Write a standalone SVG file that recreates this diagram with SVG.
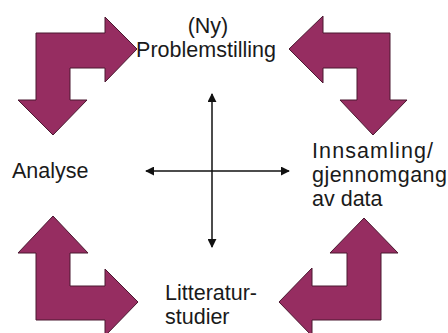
<svg xmlns="http://www.w3.org/2000/svg" width="448" height="333" viewBox="0 0 448 333">
  <defs>
    <style>
      .bent { fill: #962D61; stroke: #4A1830; stroke-width: 1; stroke-linejoin: miter; }
      .lbl { font-family: "Liberation Sans", Arial, sans-serif; font-size: 21.5px; fill: #1A1A1A; }
      .axis { stroke: #111; stroke-width: 1.5; fill: none; marker-start: url(#tip); marker-end: url(#tip); }
    </style>
    <marker id="tip" viewBox="0 0 10 10" refX="9" refY="5" markerWidth="6" markerHeight="6" markerUnits="strokeWidth" orient="auto-start-reverse">
      <path d="M0,0 L10,5 L0,10 z" fill="#111"/>
    </marker>
  </defs>
  <rect width="448" height="333" fill="#FFFFFF"/>

  <g id="arrow-top-left">
    <polygon class="bent" points="36,33 105,33 105,17 137,49 105,82 105,68 70,68 70,100 87,100 53,135 18,100 36,100"/>
  </g>
  <g id="arrow-top-right">
    <polygon class="bent" points="390,33 323,33 323,16 289,49 323,83 323,68 357,68 357,100 340,100 373,135 407,100 390,100"/>
  </g>
  <g id="arrow-bottom-left">
    <polygon class="bent" points="36,320 105,320 105,336 138,302 105,269 105,286 70,286 70,253 88,253 53,216 18,253 36,253"/>
  </g>
  <g id="arrow-bottom-right">
    <polygon class="bent" points="381,320 312,320 312,336 279,302 312,268 312,286 347,286 347,253 330,253 364,218 398,253 381,253"/>
  </g>

  <g id="connectors">
    <line class="axis" x1="212" y1="94" x2="212" y2="247"/>
    <line class="axis" x1="146" y1="171" x2="289" y2="171"/>
  </g>

  <g id="node-problemstilling">
    <text class="lbl" x="208" y="33" text-anchor="middle">(Ny)</text>
    <text class="lbl" x="206" y="57" text-anchor="middle">Problemstilling</text>
  </g>
  <g id="node-analyse">
    <text class="lbl" x="12" y="178">Analyse</text>
  </g>
  <g id="node-innsamling">
    <text class="lbl" x="312" y="158" textLength="121" lengthAdjust="spacing">Innsamling/</text>
    <text class="lbl" x="312" y="182" textLength="135" lengthAdjust="spacing">gjennomgang</text>
    <text class="lbl" x="312" y="206">av data</text>
  </g>
  <g id="node-litteraturstudier">
    <text class="lbl" x="165" y="300">Litteratur-</text>
    <text class="lbl" x="165" y="324">studier</text>
  </g>
</svg>
